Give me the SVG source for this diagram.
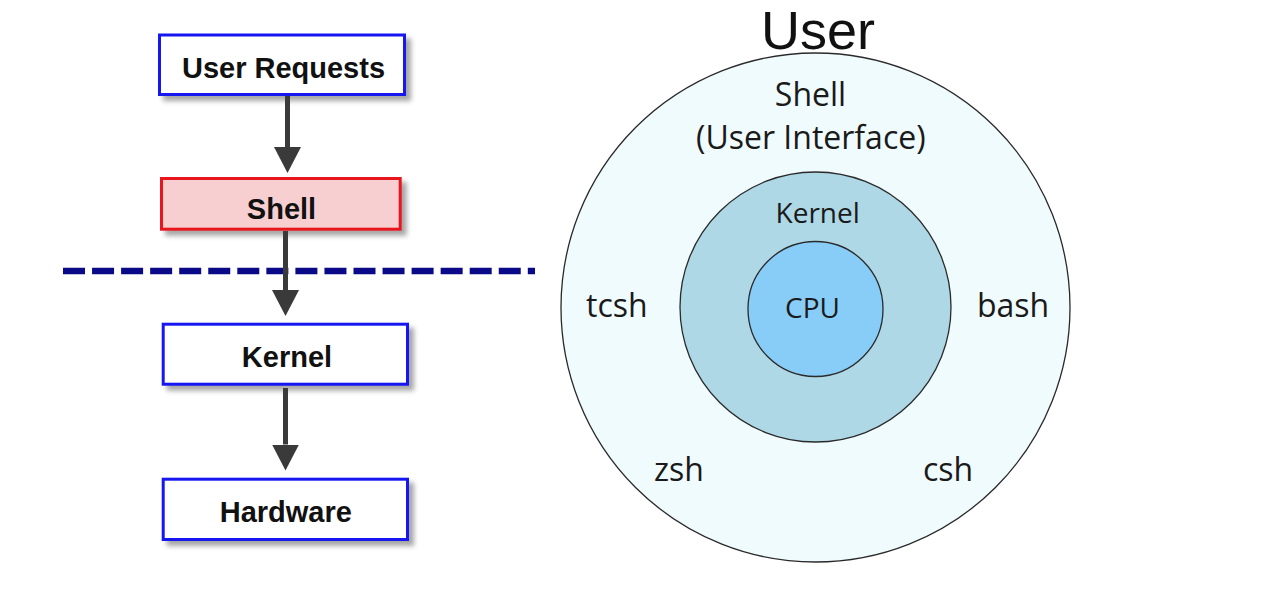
<svg xmlns="http://www.w3.org/2000/svg" width="1285" height="602" viewBox="0 0 1285 602">
  <defs>
    <style>
      .box { fill: #ffffff; stroke: #1414f0; stroke-width: 3; filter: url(#shadow); }
      .box-red { fill: #f8cfd0; stroke: #e8121c; stroke-width: 3; filter: url(#shadow); }
      .lbl { font-family: "Liberation Sans", Arial, sans-serif; font-weight: bold; font-size: 29px; fill: #111; text-anchor: middle; }
      .ring { stroke: #2a2a2a; stroke-width: 1.3; }
      .rt { font-family: "Open Sans", "Liberation Sans", sans-serif; fill: #1a1a1a; }
      .conn { stroke: #3a3a3a; stroke-width: 5; fill: none; marker-end: url(#head); }
    </style>
    <filter id="shadow" x="-10%" y="-20%" width="130%" height="160%">
      <feDropShadow dx="5" dy="5" stdDeviation="2.5" flood-color="#000" flood-opacity="0.35"/>
    </filter>
    <filter id="dshadow" x="-5%" y="-100%" width="110%" height="400%">
      <feGaussianBlur stdDeviation="1.8"/>
    </filter>
    <marker id="head" markerUnits="userSpaceOnUse" viewBox="0 0 26 27" refX="0" refY="13.5" markerWidth="26" markerHeight="27" orient="auto">
      <path d="M0,0 L26,13.5 L0,27 Z" fill="#3a3a3a"/>
    </marker>
  </defs>

  <rect width="1285" height="602" fill="#ffffff"/>

  <!-- Left flow nodes -->
  <g id="node-user-requests">
    <rect class="box" x="159.5" y="35" width="245" height="59.5"/>
    <text class="lbl" x="283.5" y="77.5">User Requests</text>
  </g>
  <g id="node-shell">
    <rect class="box-red" x="161.5" y="178.5" width="238.7" height="50.7"/>
    <text class="lbl" x="281.5" y="218.5">Shell</text>
  </g>
  <g id="node-kernel">
    <rect class="box" x="163.2" y="324.2" width="244.3" height="60"/>
    <text class="lbl" x="287" y="367">Kernel</text>
  </g>
  <g id="node-hardware">
    <rect class="box" x="163.2" y="479.2" width="244.3" height="60.3"/>
    <text class="lbl" x="285.8" y="522">Hardware</text>
  </g>

  <!-- Separator (dashed) -->
  <g id="separator">
    <line x1="66" y1="281" x2="538" y2="281" stroke="#8a8a8a" stroke-width="6" stroke-dasharray="22 7.05" filter="url(#dshadow)" opacity="0.8"/>
    <line x1="63" y1="271" x2="535" y2="271" stroke="#0a0a88" stroke-width="6.5" stroke-dasharray="22 7.05"/>
  </g>

  <!-- Connectors -->
  <g id="connectors">
    <line class="conn" x1="287.5" y1="96" x2="287.5" y2="147"/>
    <line class="conn" x1="285.5" y1="231" x2="285.5" y2="290"/>
    <line class="conn" x1="285.5" y1="388" x2="285.5" y2="444.5"/>
  </g>

  <!-- Right: concentric diagram -->
  <g id="label-user">
    <text x="818" y="48.5" font-family="Liberation Sans, Arial, sans-serif" font-size="54" fill="#111" text-anchor="middle">User</text>
  </g>
  <g id="ring-shell">
    <ellipse class="ring" cx="815.5" cy="307.5" rx="254.5" ry="254.5" fill="#f0fbfe"/>
    <text class="rt" x="810.5" y="106" font-size="32" text-anchor="middle">Shell</text>
    <text class="rt" x="810.8" y="149" font-size="32" text-anchor="middle">(User Interface)</text>
    <text class="rt" x="586" y="316.7" font-size="32">tcsh</text>
    <text class="rt" x="977" y="316.7" font-size="32">bash</text>
    <text class="rt" x="654" y="480.7" font-size="32">zsh</text>
    <text class="rt" x="923" y="480.7" font-size="32">csh</text>
  </g>
  <g id="ring-kernel">
    <ellipse class="ring" cx="815.5" cy="307" rx="135.5" ry="135" fill="#aed8e5"/>
    <text class="rt" x="817.7" y="223.3" font-size="28" text-anchor="middle">Kernel</text>
  </g>
  <g id="ring-cpu">
    <ellipse class="ring" cx="815.5" cy="309" rx="67.5" ry="67.5" fill="#88cdf8"/>
    <text class="rt" x="812.5" y="318.3" font-size="28" text-anchor="middle">CPU</text>
  </g>
</svg>
